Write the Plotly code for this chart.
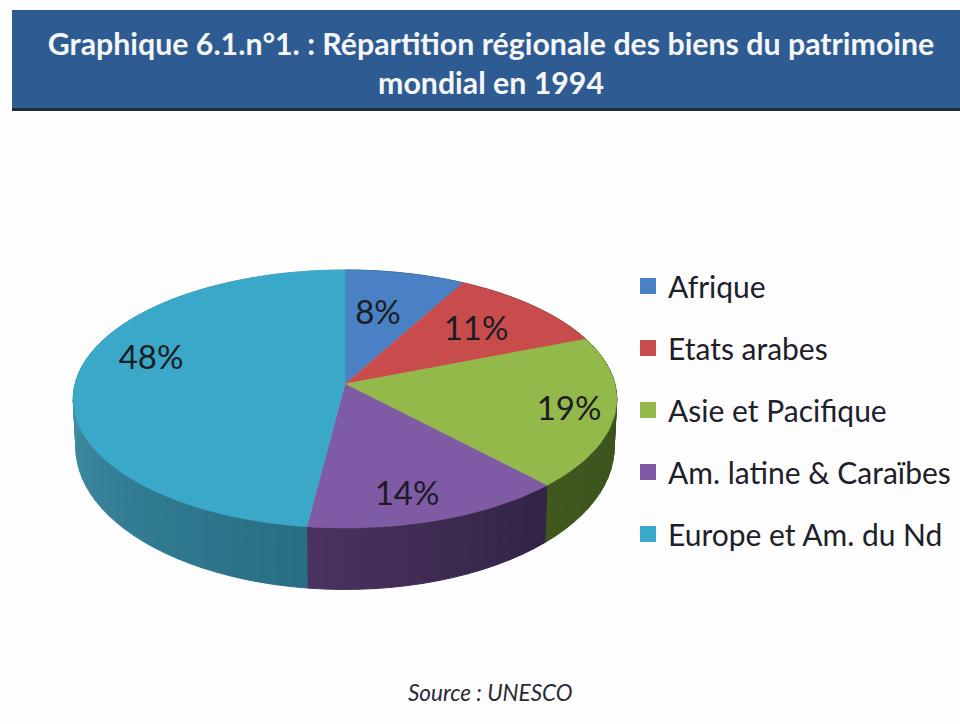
import math
import plotly.graph_objects as go

# Data
categories = ["Afrique", "Etats arabes", "Asie et Pacifique", "Am. latine & Caraïbes", "Europe et Am. du Nd"]
shares = [8, 11, 19, 14, 48]
top_colors = ["#4a80c4", "#c94c4c", "#93b94a", "#7f5aa5", "#3aa8c8"]
side_from = ["#2f5480", "#7f3230", "#39501a", "#322547", "#266f85"]
side_to = ["#2f5480", "#7f3230", "#40591f", "#4c3360", "#5fb0c8"]
label_pos = [(378, 316), (476, 332), (569, 412), (407, 497), (151, 361)]

title_text = "Graphique 6.1.n°1. : Répartition régionale des biens du patrimoine<br>mondial en 1994"
source_text = "Source : UNESCO"

# Tilted pie geometry, the axes run in picture pixels
CX, CY = 345, 384
A, B, K = 270, 127.3, 0.1163
FONT = "Lato"


def top_point(frac):
    t = 2 * math.pi * frac
    u, v = math.sin(t), -math.cos(t)
    d = 1 - K * v
    return CX + A * u / d, CY + B * v / d


def bottom_point(frac):
    x, y = top_point(frac)
    return CX + 0.99 * (x - CX), CY + 1.1 * (y - CY) + 47


def mix(c1, c2, f):
    a = [int(c1[i:i + 2], 16) for i in (1, 3, 5)]
    b = [int(c2[i:i + 2], 16) for i in (1, 3, 5)]
    return "rgb(%d,%d,%d)" % tuple(p + (q - p) * f for p, q in zip(a, b))


fig = go.Figure()

# Side wall, in small strips so that it can shade
start = 0
edges = []
for share in shares:
    edges.append((start / 100, (start + share) / 100))
    start += share

for i, (f0, f1) in enumerate(edges):
    steps = max(2, int((f1 - f0) * 120))
    for s in range(steps):
        a = f0 + (f1 - f0) * s / steps
        b = f0 + (f1 - f0) * (s + 1) / steps
        p = [top_point(a), top_point(b), bottom_point(b), bottom_point(a), top_point(a)]
        col = mix(side_from[i], side_to[i], s / steps)
        fig.add_trace(go.Scatter(x=[q[0] for q in p], y=[q[1] for q in p], mode="lines",
                                 fill="toself", fillcolor=col, line=dict(color=col, width=1),
                                 showlegend=False, hoverinfo="skip"))

# Top faces
for i, (f0, f1) in enumerate(edges):
    n = int((f1 - f0) * 200) + 2
    pts = [top_point(f0 + (f1 - f0) * j / n) for j in range(n + 1)]
    xs = [CX] + [q[0] for q in pts] + [CX]
    ys = [CY] + [q[1] for q in pts] + [CY]
    fig.add_trace(go.Scatter(x=xs, y=ys, mode="lines", fill="toself", fillcolor=top_colors[i],
                             line=dict(color=top_colors[i], width=0.5), showlegend=False,
                             name=categories[i], hoverinfo="name"))

# Percent labels
fig.add_trace(go.Scatter(x=[p[0] for p in label_pos], y=[p[1] for p in label_pos], mode="text",
                         text=["%d%%" % v for v in shares],
                         textfont=dict(family=FONT, size=33, color="#1c1c24"),
                         showlegend=False, hoverinfo="skip"))

# Legend entries
for i, name in enumerate(categories):
    fig.add_trace(go.Scatter(x=[None], y=[None], mode="markers", name=name, legendgroup=name,
                             marker=dict(symbol="square", size=16, color=top_colors[i])))

fig.update_layout(
    width=960, height=724,
    margin=dict(l=0, r=0, t=0, b=0),
    paper_bgcolor="#fdfdfd",
    plot_bgcolor="rgba(0,0,0,0)",
    title=dict(text=title_text, x=0.5115, y=0.9244, xanchor="center", yanchor="middle",
               xref="paper", yref="paper",
               font=dict(family=FONT, size=30.3, color="#f4f6f8", weight="bold")),
    # a wider legend would eat into the plot area, 30 fits
    legend=dict(x=628 / 960, y=1 - 260 / 724, xanchor="left", yanchor="top",
                bgcolor="rgba(0,0,0,0)", tracegroupgap=20,
                font=dict(family=FONT, size=30, color="#20202a")),
    xaxis=dict(range=[0, 960], visible=False, fixedrange=True),
    yaxis=dict(range=[724, 0], visible=False, fixedrange=True),
    shapes=[
        dict(type="rect", xref="x", yref="y", x0=12, x1=960, y0=10, y1=111, layer="below",
             fillcolor="#1f2b3d", line_width=0),
        dict(type="rect", xref="x", yref="y", x0=12, x1=960, y0=10, y1=108, layer="below",
             fillcolor="#2f5b93", line_width=0),
    ],
    annotations=[
        dict(text=source_text, x=490, y=692, xref="x", yref="y", showarrow=False,
             font=dict(family=FONT, size=22.5, color="#2a2a33", style="italic")),
    ],
)

# The page's default margin would push the 960 wide figure out of the window
fig.write_html("out.html", config=dict(displayModeBar=False),
               post_script="document.body.style.margin = '0';")
